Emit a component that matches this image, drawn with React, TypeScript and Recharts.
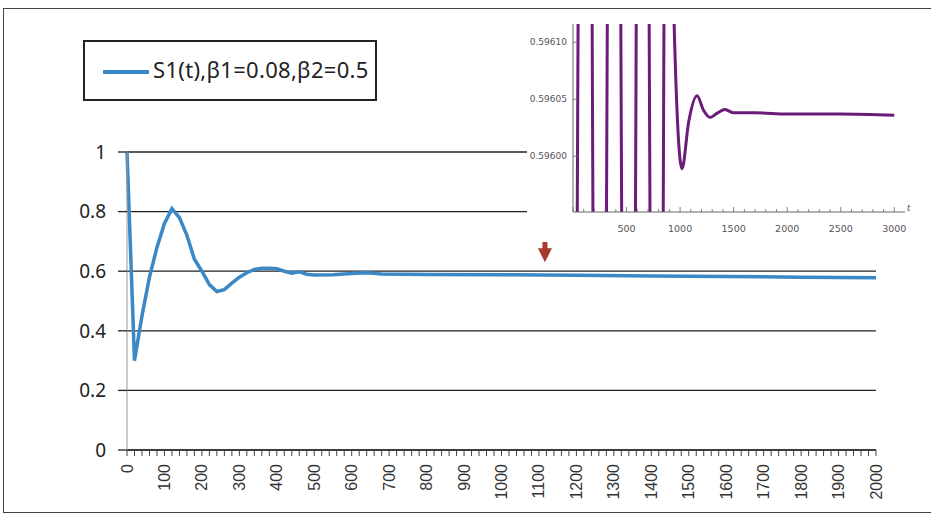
import { LineChart, Line, XAxis, YAxis, CartesianGrid, ReferenceDot } from "recharts"

// main series S1(t)
const times = [0, 20, 40, 60, 80, 100, 120, 140, 160, 180, 200, 220, 240, 260, 280, 300, 320, 340, 360, 380, 400, 420, 440, 460, 480, 500, 550, 600, 640, 680, 800, 1000, 1200, 1400, 1600, 1800, 2000]
const s1 = [1.0, 0.3, 0.45, 0.58, 0.68, 0.76, 0.81, 0.78, 0.72, 0.64, 0.6, 0.555, 0.532, 0.538, 0.56, 0.58, 0.595, 0.606, 0.61, 0.61, 0.608, 0.6, 0.593, 0.598, 0.59, 0.587, 0.588, 0.592, 0.595, 0.591, 0.589, 0.588, 0.586, 0.584, 0.582, 0.58, 0.578]

const yTicks = [0, 0.2, 0.4, 0.6, 0.8, 1]
const xTicks = Array.from({ length: 101 }, (_, i) => i * 20)

// inset (zoomed view near the steady state)
const insetTimes = [0, 120, 248, 382, 522, 649, 784, 905, 935, 1018, 1080, 1158, 1220, 1279, 1350, 1419, 1500, 1700, 2000, 2500, 3000]
const insetS = [0.595, 0.597, 0.595, 0.597, 0.595, 0.597, 0.595, 0.597, 0.59615, 0.595989, 0.59603, 0.596053, 0.59604, 0.596034, 0.596038, 0.596041, 0.596038, 0.596038, 0.596037, 0.596037, 0.596036]
const insetYTicks = [0.596, 0.59605, 0.5961]
const insetXTicks = Array.from({ length: 31 }, (_, i) => i * 100)

const mainData = times.map((t, i) => ({ t, s: s1[i] }))
const insetData = insetTimes.map((t, i) => ({ t, s: insetS[i] }))

const font = "'Noto Sans', sans-serif"

function MainXTick(props: any) {
  const { x, y, payload } = props
  if (payload.value % 100 !== 0) return <g />
  return (
    <text x={x} y={y} transform={`rotate(-90 ${x} ${y})`} textAnchor="end" dominantBaseline="central"
      fontSize={16} fontFamily="'Liberation Sans', Arial, sans-serif" fill="#333">
      {payload.value}
    </text>
  )
}

function InsetXTick(props: any) {
  const { x, y, payload } = props
  const major = payload.value % 500 === 0
  const axisY = y - 13
  return (
    <g>
      <line x1={x} x2={x} y1={axisY} y2={axisY - (major ? 5 : 3)} stroke="#666" strokeWidth={0.8} />
      {major && payload.value > 0 && (
        <text x={x} y={y} textAnchor="middle" dominantBaseline="hanging" fontSize={9.5}
          fontFamily="'DejaVu Sans', sans-serif" fill="#555">
          {payload.value}
        </text>
      )}
    </g>
  )
}

function InsetYTick(props: any) {
  const { x, y, payload } = props
  const axisX = x + 6
  return (
    <g>
      <line x1={axisX} x2={axisX + 5} y1={y} y2={y} stroke="#666" strokeWidth={0.8} />
      <text x={x} y={y} textAnchor="end" dominantBaseline="central" fontSize={9}
        fontFamily="'DejaVu Sans', sans-serif" fill="#555">
        {payload.value.toFixed(5)}
      </text>
    </g>
  )
}

function Arrow(props: any) {
  const { cx, cy } = props
  return (
    <g fill="#a53a2e">
      <rect x={cx - 2.5} y={cy - 15} width={5} height={18} />
      <polygon points={`${cx - 7},${cy + 1} ${cx + 7},${cy + 1} ${cx},${cy + 15}`} />
    </g>
  )
}

export default function App() {
  return (
    <div style={{ position: "fixed", left: 0, top: 0, width: 933, height: 522, background: "#fff", overflow: "hidden" }}>
      <div style={{ position: "absolute", left: 3, top: 8, width: 927, height: 503, borderTop: "1.5px solid #444", borderLeft: "1.5px solid #444", borderBottom: "1.5px solid #444" }} />

      <div style={{ position: "absolute", left: 0, top: 0 }}>
        <LineChart width={933} height={522} data={mainData} margin={{ top: 152, right: 57, left: 0, bottom: 12 }}>
          <CartesianGrid vertical={false} stroke="#222" strokeWidth={1.3} />
          <XAxis dataKey="t" type="number" domain={[0, 2000]} ticks={xTicks} interval={0} height={60}
            tickSize={6} tickMargin={8} tick={MainXTick} stroke="#222" tickLine={{ stroke: "#444" }} />
          <YAxis domain={[0, 1]} ticks={yTicks} width={127} tickSize={9} tickMargin={12}
            tickFormatter={(v: number) => String(v)}
            axisLine={{ stroke: "#999" }} tickLine={{ stroke: "#222", strokeWidth: 1.3 }}
            tick={{ fontSize: 19, fill: "#222", fontFamily: font }} />
          <Line dataKey="s" type="linear" stroke="#3b88c6" strokeWidth={3.5} dot={false} isAnimationActive={false} />
          <ReferenceDot x={1116} y={0.68} r={0} shape={Arrow} />
        </LineChart>
      </div>

      <div style={{ position: "absolute", left: 83, top: 40, width: 290, height: 57, border: "2px solid #222", background: "#fff" }}>
        <div style={{ position: "absolute", left: 18, top: 28, width: 46, height: 3.5, background: "#3b88c6" }} />
        <div style={{ position: "absolute", left: 68, top: 12, fontSize: 22, letterSpacing: 0.3, fontFamily: font, color: "#222", whiteSpace: "nowrap" }}>
          S1(t),β1=0.08,β2=0.5
        </div>
      </div>

      <div style={{ position: "absolute", left: 527, top: 10, width: 390, height: 232, background: "#fff" }}>
        <LineChart width={390} height={232} data={insetData} margin={{ top: 14, right: 12, left: 0, bottom: 8 }}>
          <XAxis dataKey="t" type="number" domain={[0, 3100]} ticks={insetXTicks} interval={0} height={22}
            tickSize={0} tickMargin={13} tick={InsetXTick} stroke="#666" />
          <YAxis domain={[0.595951, 0.596116]} allowDataOverflow ticks={insetYTicks} width={46}
            tickSize={0} tickMargin={6} tick={InsetYTick} stroke="#666" />
          <Line dataKey="s" type="monotone" stroke="#6b1b78" strokeWidth={3} dot={false} isAnimationActive={false} />
        </LineChart>
        <div style={{ position: "absolute", left: 380, top: 193, fontSize: 9, fontStyle: "italic", fontFamily: "'DejaVu Serif', serif", color: "#555" }}>t</div>
      </div>
    </div>
  )
}
